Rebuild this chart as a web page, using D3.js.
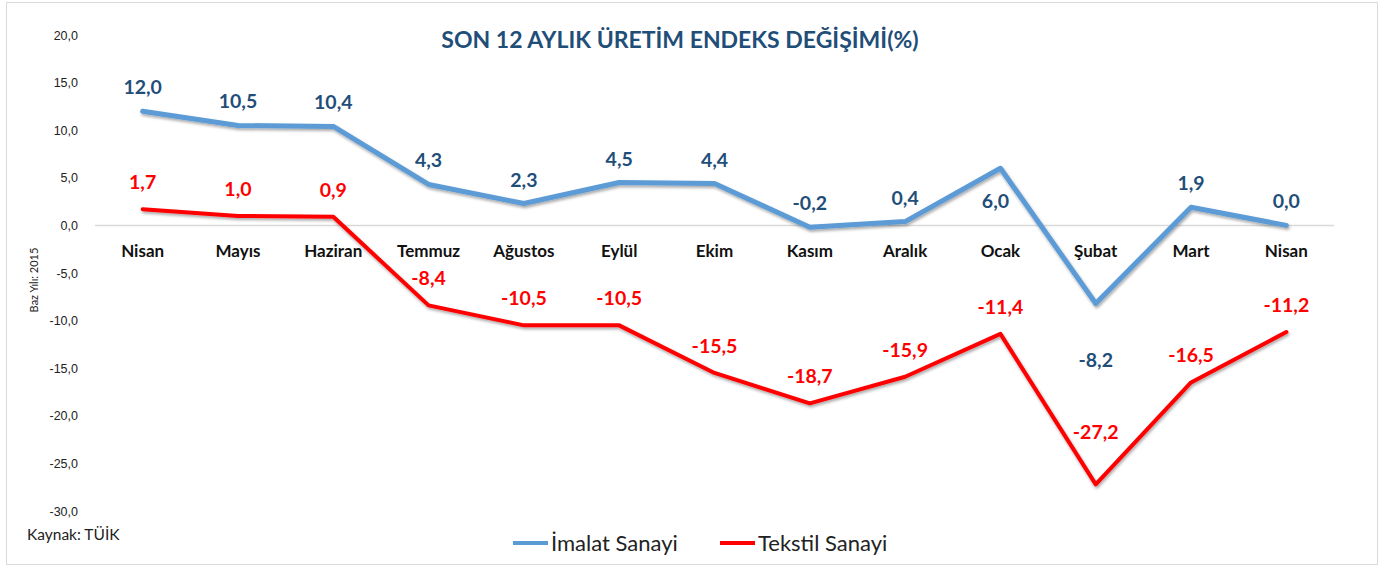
<!DOCTYPE html>
<html>
<head>
<meta charset="utf-8">
<script src="https://cdn.jsdelivr.net/npm/d3@7"></script>
<style>
  body { margin: 0; background: #fff; }
  svg { display: block; font-family: Lato, "Open Sans", sans-serif; }
</style>
</head>
<body>
<div id="chart"></div>
<script>
(function uretim_endeks(){

const months = ["Nisan", "Mayıs", "Haziran", "Temmuz", "Ağustos", "Eylül", "Ekim", "Kasım", "Aralık", "Ocak", "Şubat", "Mart", "Nisan"];
const imalat = [12.0, 10.5, 10.4, 4.3, 2.3, 4.5, 4.4, -0.2, 0.4, 6.0, -8.2, 1.9, 0.0];
const tekstil = [1.7, 1.0, 0.9, -8.4, -10.5, -10.5, -15.5, -18.7, -15.9, -11.4, -27.2, -16.5, -11.2];
const yTicks = [20, 15, 10, 5, 0, -5, -10, -15, -20, -25, -30];

const width = 1381, height = 568;
const margin = {top: 35, right: 47, bottom: 57, left: 95};

const fmt = v => v.toFixed(1).replace(".", ",");

const svg = d3.select("#chart").append("svg")
    .attr("width", width)
    .attr("height", height);

// chart border
svg.append("rect")
    .attr("x", 6.5).attr("y", 2.5)
    .attr("width", width - 10).attr("height", 562)
    .attr("fill", "#fff")
    .attr("stroke", "#d9d9d9");

const x = d3.scalePoint()
    .domain(d3.range(months.length))
    .range([margin.left, width - margin.right])
    .padding(0.5);

const y = d3.scaleLinear()
    .domain([-30, 20])
    .range([height - margin.bottom, margin.top]);

// shadow for the lines
const defs = svg.append("defs");
defs.append("filter").attr("id", "shadow")
    .attr("x", "-5%").attr("y", "-5%").attr("width", "110%").attr("height", "120%")
    .append("feDropShadow")
    .attr("dx", 1).attr("dy", 2).attr("stdDeviation", 1.5)
    .attr("flood-color", "#000").attr("flood-opacity", 0.35);

// y axis
const yAxis = d3.axisLeft(y).tickValues(yTicks).tickSize(0).tickFormat(fmt);
svg.append("g")
    .attr("transform", `translate(${margin.left - 14},0)`)
    .call(yAxis)
    .call(g => g.select(".domain").remove())
    .call(g => g.selectAll("text")
        .attr("font-size", 12.5)
        .attr("fill", "#222"));

// zero line
svg.append("line")
    .attr("x1", margin.left).attr("x2", width - margin.right)
    .attr("y1", y(0)).attr("y2", y(0))
    .attr("stroke", "#d9d9d9").attr("stroke-width", 1.5);

// category labels
svg.append("g")
    .selectAll("text")
    .data(months)
    .join("text")
    .attr("x", (d, i) => x(i))
    .attr("y", y(0) + 32)
    .attr("text-anchor", "middle")
    .attr("font-size", 17)
    .attr("font-weight", "bold")
    .attr("fill", "#111")
    .text(d => d);

const line = d3.line()
    .x((d, i) => x(i))
    .y(d => y(d));

svg.append("path")
    .datum(imalat)
    .attr("fill", "none")
    .attr("stroke", "#5b9bd5")
    .attr("stroke-width", 5)
    .attr("stroke-linejoin", "round")
    .attr("stroke-linecap", "round")
    .attr("filter", "url(#shadow)")
    .attr("d", line);

svg.append("path")
    .datum(tekstil)
    .attr("fill", "none")
    .attr("stroke", "#ff0000")
    .attr("stroke-width", 4)
    .attr("stroke-linejoin", "round")
    .attr("stroke-linecap", "round")
    .attr("filter", "url(#shadow)")
    .attr("d", line);

// data labels: blue below for Ocak and Şubat, otherwise above
const below = {9: 40, 10: 64};
svg.append("g")
    .selectAll("text")
    .data(imalat)
    .join("text")
    .attr("x", (d, i) => x(i) - (i === 9 ? 5 : 0))
    .attr("y", (d, i) => i in below ? y(d) + below[i] : y(d) - 17)
    .attr("text-anchor", "middle")
    .attr("font-size", 19.5)
    .attr("font-weight", "bold")
    .attr("fill", "#1f4e79")
    .text(fmt);

svg.append("g")
    .selectAll("text")
    .data(tekstil)
    .join("text")
    .attr("x", (d, i) => x(i))
    .attr("y", (d, i) => i === 10 ? y(d) - 45 : y(d) - 20)
    .attr("text-anchor", "middle")
    .attr("font-size", 19.5)
    .attr("font-weight", "bold")
    .attr("fill", "#ff0000")
    .text(fmt);

// title
svg.append("text")
    .attr("x", 680).attr("y", 48)
    .attr("text-anchor", "middle")
    .attr("font-size", 23)
    .attr("font-weight", "bold")
    .attr("fill", "#1f4e79")
    .text("SON 12 AYLIK ÜRETİM ENDEKS DEĞİŞİMİ(%)");

// axis title
svg.append("text")
    .attr("transform", "translate(38,280) rotate(-90)")
    .attr("text-anchor", "middle")
    .attr("font-size", 11)
    .attr("fill", "#222")
    .text("Baz Yılı: 2015");

// source
svg.append("text")
    .attr("x", 27).attr("y", 540)
    .attr("font-size", 15.5)
    .attr("fill", "#222")
    .text("Kaynak: TÜİK");

// legend
const legend = [
  {name: "İmalat Sanayi", color: "#5b9bd5", x: 513},
  {name: "Tekstil Sanayi", color: "#ff0000", x: 720}
];
const lg = svg.append("g").selectAll("g")
    .data(legend)
    .join("g")
    .attr("transform", d => `translate(${d.x},543)`);
lg.append("line")
    .attr("x1", 0).attr("x2", 35)
    .attr("stroke", d => d.color)
    .attr("stroke-width", 4);
lg.append("text")
    .attr("x", 38).attr("y", 8)
    .attr("font-size", 22)
    .attr("fill", "#222")
    .text(d => d.name);

})();
</script>
</body>
</html>
